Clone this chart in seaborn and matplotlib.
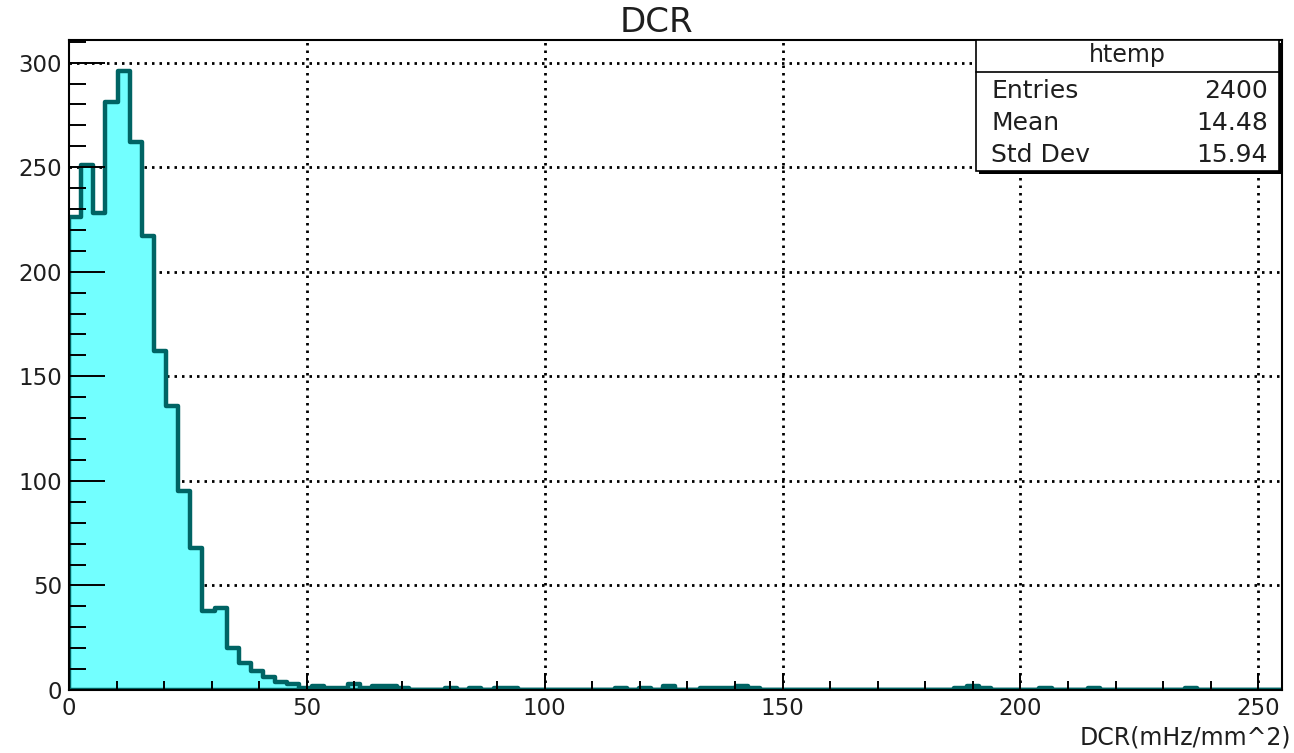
import numpy as np
import pandas as pd
import matplotlib
matplotlib.use("Agg")
import matplotlib.pyplot as plt
import seaborn as sns
from matplotlib.patches import Rectangle
from matplotlib.lines import Line2D
from matplotlib.ticker import MultipleLocator

# ---------------- data ----------------
x_min, x_max, n_bins = 0.0, 255.0, 100
counts = [226, 251, 228, 281, 296, 262, 217, 162, 136, 95,
          68, 38, 39, 20, 13, 9, 6, 4, 3, 1,
          2, 1, 1, 3, 1, 2, 2, 1, 0, 0,
          0, 1, 0, 1, 0, 1, 1, 0, 0, 0,
          0, 0, 0, 0, 0, 1, 0, 1, 0, 2,
          0, 0, 1, 1, 1, 2, 1, 0, 0, 0,
          0, 0, 0, 0, 0, 0, 0, 0, 0, 0,
          0, 0, 0, 1, 2, 1, 0, 0, 0, 0,
          1, 0, 0, 0, 1, 0, 0, 0, 0, 0,
          0, 0, 1, 0, 0, 0, 0, 0, 0, 0]
title = "DCR"
x_label = "DCR(mHz/mm^2)"
stats_name = "htemp"
stats_labels = ["Entries", "Mean", "Std Dev"]
stats_values = ["2400", "14.48", "15.94"]
x_major = [0, 50, 100, 150, 200, 250]
y_major = [0, 50, 100, 150, 200, 250, 300]

bin_w = (x_max - x_min) / n_bins
centers = x_min + bin_w * (np.arange(n_bins) + 0.5)
df = pd.DataFrame({"dcr": centers, "n": np.asarray(counts, dtype=float)})

# ---------------- figure ----------------
W, H = 1294, 753
sns.set_theme(style="white")
plt.rcParams["font.family"] = ["DejaVu Sans"]
TXT = "#1e1e1e"

fig = plt.figure(figsize=(W / 100, H / 100), dpi=100)
fig.patch.set_facecolor("white")


def fx(px):
    return px / W


def fy(py):
    return 1 - py / H


ax_l, ax_r, ax_t, ax_b = 69, 1282, 40, 690
ax = fig.add_axes([fx(ax_l), fy(ax_b), fx(ax_r - ax_l), (ax_b - ax_t) / H])
ax.set_facecolor("white")
ax.set_axisbelow(False)

sns.histplot(data=df, x="dcr", weights="n", binwidth=bin_w, binrange=(x_min, x_max),
             element="step", fill=True,
             facecolor="#72ffff", edgecolor="#006464", linewidth=3.2, alpha=1.0,
             zorder=1.5, ax=ax)

ymax = max(counts) * 1.05
ax.set_xlim(x_min, x_max)
ax.set_ylim(0, ymax)
ax.set_xlabel("")
ax.set_ylabel("")

# dotted grid below histogram
grid_style = dict(color="black", linestyle=(0, (0.9, 1.8)), linewidth=2.0, zorder=0.5)
for xv in x_major[1:]:
    ax.axvline(xv, **grid_style)
for yv in y_major[1:]:
    ax.axhline(yv, **grid_style)

ax.set_xticks(x_major)
ax.set_yticks(y_major)
ax.xaxis.set_minor_locator(MultipleLocator(10))
ax.yaxis.set_minor_locator(MultipleLocator(10))
ax.tick_params(which="both", bottom=True, left=True, top=False, right=False)
ax.tick_params(axis="x", which="major", direction="in", length=12.5, width=1.4,
               color="black", labelsize=16.5, pad=5, labelcolor=TXT)
ax.tick_params(axis="x", which="minor", direction="in", length=6.5, width=1.4, color="black")
ax.tick_params(axis="y", which="major", direction="in", length=26, width=1.4,
               color="black", labelsize=16.5, pad=5, labelcolor=TXT)
ax.tick_params(axis="y", which="minor", direction="in", length=12.5, width=1.4, color="black")
ax.xaxis.set_zorder(2.5)
ax.yaxis.set_zorder(2.5)
for s in ax.spines.values():
    s.set_visible(True)
    s.set_color("black")
    s.set_linewidth(1.5)
    s.set_zorder(3)

# title and axis label
fig.text(fx(656), fy(23), title, ha="center", va="center", fontsize=24.5, color=TXT)
fig.text(fx(1291), fy(737), x_label, ha="right", va="center", fontsize=17, color=TXT)

# stats box
bx_l, bx_r, bx_t, bx_b = 976, 1279, 40, 171
fig.add_artist(Rectangle((fx(bx_l + 3), fy(bx_b + 3)), fx(bx_r - bx_l), (bx_b - bx_t) / H,
                         transform=fig.transFigure, facecolor="black", edgecolor="none", zorder=5))
fig.add_artist(Rectangle((fx(bx_l), fy(bx_b)), fx(bx_r - bx_l), (bx_b - bx_t) / H,
                         transform=fig.transFigure, facecolor="white", edgecolor="black",
                         linewidth=1.2, zorder=6))
fig.add_artist(Line2D([fx(bx_l), fx(bx_r)], [fy(72), fy(72)], transform=fig.transFigure,
                      color="black", linewidth=1.2, zorder=7))
fig.text(fx((bx_l + bx_r) / 2), fy(55), stats_name, ha="center", va="center",
         fontsize=17, color=TXT, zorder=8)
for i, (lab, val) in enumerate(zip(stats_labels, stats_values)):
    yy = fy(91 + 32 * i)
    fig.text(fx(991), yy, lab, ha="left", va="center", fontsize=18, color=TXT, zorder=8)
    fig.text(fx(1268), yy, val, ha="right", va="center", fontsize=18, color=TXT, zorder=8)

fig.savefig("out.png", dpi=100)
